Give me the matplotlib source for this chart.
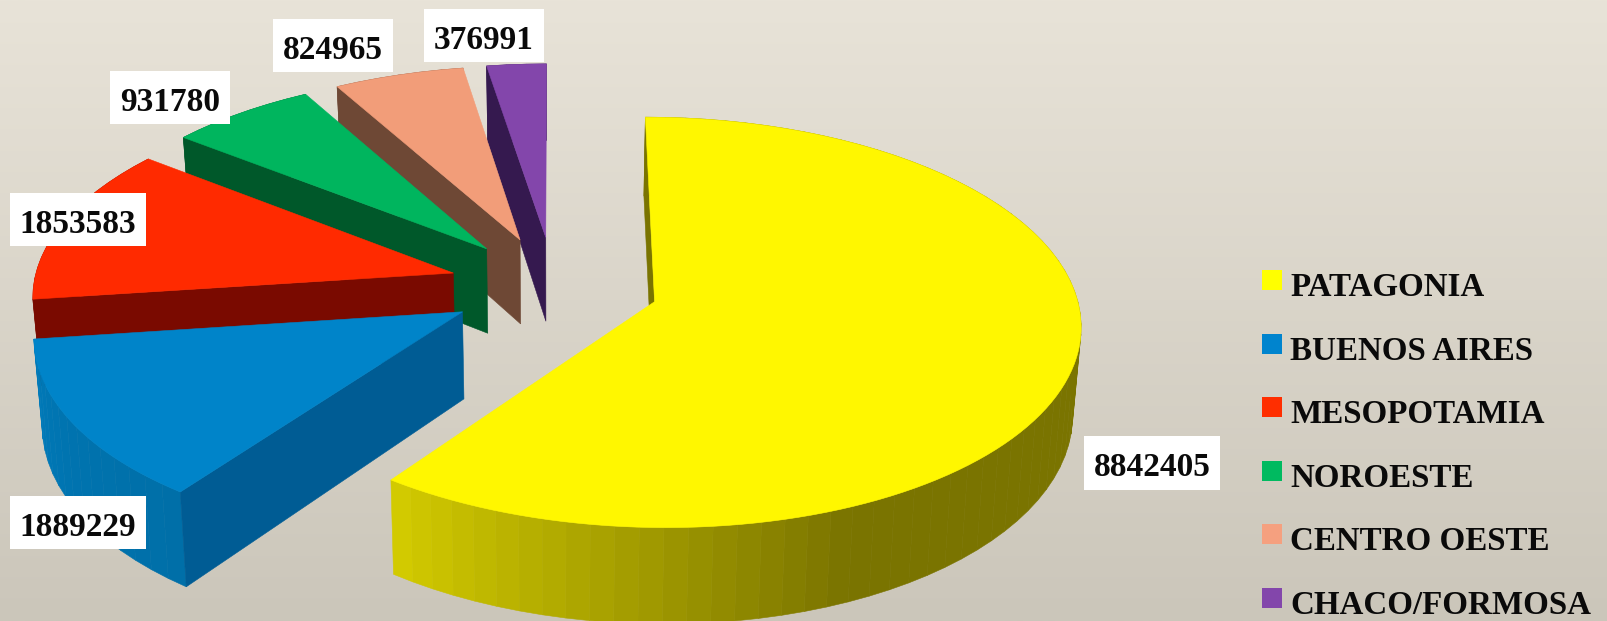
import numpy as np
import matplotlib
matplotlib.use("Agg")
import matplotlib.pyplot as plt
from matplotlib.patches import Polygon, Rectangle
from matplotlib.colors import to_rgb

regions = ["PATAGONIA", "BUENOS AIRES", "MESOPOTAMIA", "NOROESTE", "CENTRO OESTE", "CHACO/FORMOSA"]
values = [8842405, 1889229, 1853583, 931780, 824965, 376991]

top_colors = ["#FFF700", "#0084C9", "#FF2A00", "#00B55E", "#F29D79", "#8346AB"]
wall_colors = ["#7A7400", "#005C94", "#7A0A00", "#00582A", "#6E4835", "#35194F"]
legend_colors = ["#FFFF00", "#0084CE", "#FF2E00", "#00BA60", "#F5A07F", "#8346AB"]

# Label boxes (x0, y0, x1, y1) in figure pixels
label_boxes = [(1084, 436, 1220, 490), (10, 496, 146, 549), (10, 193, 146, 246),
               (110, 71, 230, 124), (273, 19, 393, 72), (424, 9, 544, 62)]

# Camera for the tilted disc
CX, CY, A, B, P, EXPL, DEPTH, SHRINK = 554, 286, 420, 200, 0.10, 0.25, 86, 0.984


def project(X, Y):
    s = 1.0 / (1.0 - P * Y)
    return CX + A * X * s, CY + B * Y * s, s


def top_pt(theta, ox, oy, r=1.0):
    X = ox + r * np.sin(theta)
    Y = oy - r * np.cos(theta)
    x, y, _ = project(X, Y)
    return x, y


def bot_pt(theta, ox, oy, r=1.0):
    X = ox + r * np.sin(theta)
    Y = oy - r * np.cos(theta)
    x, y, s = project(X, Y)
    return CX + (x - CX) * SHRINK, y + DEPTH * s


W, H = 1608, 621
fig = plt.figure(figsize=(W / 100, H / 100), dpi=100)
ax = fig.add_axes([0, 0, 1, 1])
ax.set_xlim(0, W)
ax.set_ylim(H, 0)
ax.axis("off")

c0, c1 = np.array(to_rgb("#E8E3D8")), np.array(to_rgb("#CBC6BA"))
grad = np.linspace(0, 1, 256)[:, None, None] * (c1 - c0)[None, None, :] + c0[None, None, :]
ax.imshow(grad, extent=(0, W, H, 0), aspect="auto", zorder=0, interpolation="bilinear")

fracs = np.array(values, dtype=float) / sum(values)
edges = np.concatenate([[0], np.cumsum(fracs)]) * 2 * np.pi


def rim_color(i, deg):
    if i == 0:
        t = np.interp(deg, [157, 216.3], [0, 1])
        return tuple(np.array(to_rgb("#7A7400")) * (1 - t) + np.array(to_rgb("#D4CC00")) * t)
    if i == 1:
        t = np.interp(deg, [216.3, 240, 262.5], [0, 0.4, 1])
        return tuple(np.array(to_rgb("#006FA8")) * (1 - t) + np.array(to_rgb("#007ABA")) * t)
    return wall_colors[i]


z = 1
for i in [5, 4, 3, 2, 1, 0]:
    t0, t1 = edges[i], edges[i + 1]
    mid = (t0 + t1) / 2
    ox, oy = EXPL * np.sin(mid), -EXPL * np.cos(mid)

    # Rim wall, in facets
    n = max(2, int(np.degrees(t1 - t0) / 3))
    th = np.linspace(t0, t1, n + 1)
    for a, b in zip(th[:-1], th[1:]):
        col = rim_color(i, np.degrees((a + b) / 2))
        poly = [top_pt(a, ox, oy), top_pt(b, ox, oy), bot_pt(b, ox, oy), bot_pt(a, ox, oy)]
        ax.add_patch(Polygon(poly, closed=True, fc=col, ec=col, lw=0.4, zorder=z))
        z += 1

    # Radial wall at the slice's starting angle
    poly = [top_pt(t0, ox, oy, 0), top_pt(t0, ox, oy), bot_pt(t0, ox, oy), bot_pt(t0, ox, oy, 0)]
    ax.add_patch(Polygon(poly, closed=True, fc=wall_colors[i], ec=wall_colors[i], lw=0.4, zorder=z))
    z += 1

    # Top face
    arc = np.linspace(t0, t1, 120)
    poly = [top_pt(t0, ox, oy, 0)] + [top_pt(t, ox, oy) for t in arc]
    ax.add_patch(Polygon(poly, closed=True, fc=top_colors[i], ec=top_colors[i], lw=0.4, zorder=z))
    z += 1

serif = "Liberation Serif"

for v, (x0, y0, x1, y1) in zip(values, label_boxes):
    ax.add_patch(Rectangle((x0, y0), x1 - x0, y1 - y0, fc="white", ec="none", zorder=z))
    ax.text((x0 + x1) / 2, (y0 + y1) / 2 + 5, str(v), family=serif, weight="bold", fontsize=24,
            color="#0A0A0A", ha="center", va="center", zorder=z + 1)

# Legend
for k, (name, col) in enumerate(zip(regions, legend_colors)):
    y = 270 + 63.6 * k
    ax.add_patch(Rectangle((1262, y), 20, 20, fc=col, ec="none", zorder=z))
    ax.text(1290.5, y + 26, name, family=serif, weight="bold", fontsize=23.8,
            color="#0A0A0A", ha="left", va="baseline", zorder=z + 1)

fig.savefig("out.png", dpi=100)
